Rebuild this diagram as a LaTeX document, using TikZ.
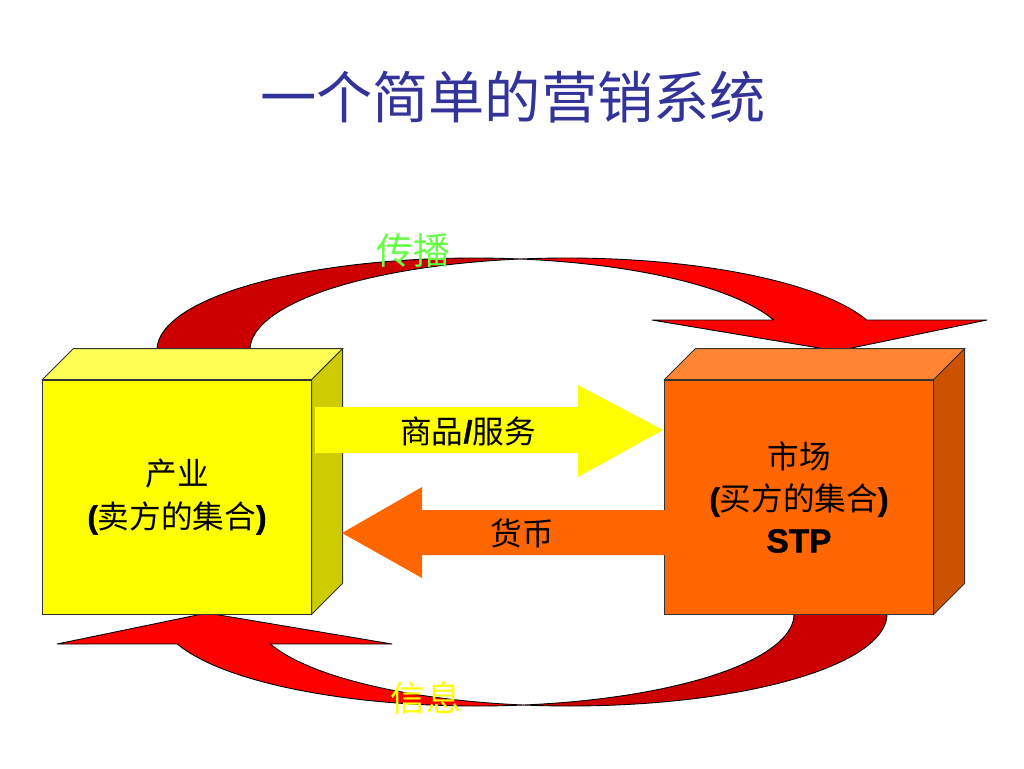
\documentclass[tikz,border=0pt]{standalone}
\usepackage{fontspec}
\setmainfont{Liberation Sans}
\newfontfamily\hei{Noto Sans CJK SC}
\newfontfamily\heavy[UprightFont={* Bold},FakeBold=1.2]{Liberation Sans}
\usepackage{tikz}
\usetikzlibrary{calc}

\definecolor{titleblue}{HTML}{333399}
\definecolor{arcdark}{HTML}{CC0000}
\definecolor{arclight}{HTML}{FF0000}
\definecolor{yelfront}{HTML}{FFFF00}
\definecolor{yeltop}{HTML}{FFFF55}
\definecolor{yelside}{HTML}{CCCC00}
\definecolor{orgfront}{HTML}{FF6600}
\definecolor{orgtop}{HTML}{FF8533}
\definecolor{orgside}{HTML}{CC5200}
\definecolor{spreadgreen}{HTML}{66FF44}

\begin{document}
\begin{tikzpicture}[x=0.02cm,y=-0.02cm,
    band/.style={draw=black,line width=0.5pt,line join=round},
    face/.style={draw=black!80,line width=0.5pt},
    cube/.style={face,minimum width=5.37cm,minimum height=4.68cm,align=center,
        font=\fontsize{18}{24}\selectfont},
    lbl/.style={font=\fontsize{18}{24}\selectfont}]
\useasboundingbox (0,0) rectangle (1024,768);

% title
\node[text=titleblue,font=\hei\fontsize{32}{38}\selectfont] (title) at (513,97) {一个简单的营销系统};

% curved arrows
\draw[band,fill=arcdark] plot[domain=180:81.6,samples=60] ({474+317*cos(\x)},{350-92*sin(\x)})
    -- plot[domain=98.4:180,samples=60] ({567+317*cos(\x)},{350-92*sin(\x)}) -- cycle;
\draw[band,fill=arclight] plot[domain=98.4:19,samples=60] ({567+317*cos(\x)},{350-92*sin(\x)})
    -- (987,320) -- (837,351) -- (652,320)
    -- plot[domain=19:81.6,samples=60] ({474+317*cos(\x)},{350-92*sin(\x)}) -- cycle;
\begin{scope}[rotate around={180:(522,482)}]
\draw[band,fill=arcdark] plot[domain=180:81.6,samples=60] ({474+317*cos(\x)},{350-92*sin(\x)})
    -- plot[domain=98.4:180,samples=60] ({567+317*cos(\x)},{350-92*sin(\x)}) -- cycle;
\draw[band,fill=arclight] plot[domain=98.4:19,samples=60] ({567+317*cos(\x)},{350-92*sin(\x)})
    -- (987,320) -- (837,351) -- (652,320)
    -- plot[domain=19:81.6,samples=60] ({474+317*cos(\x)},{350-92*sin(\x)}) -- cycle;
\end{scope}

% boxes
\node[cube,fill=yelfront] (ind) at (177,497) {{\hei 产业}\\{\heavy (}{\hei 卖方的集合}{\heavy )}};
\draw[face,fill=yeltop] (ind.north west) -- ++(31,-31) -- ($(ind.north east)+(31,-31)$) -- (ind.north east) -- cycle;
\draw[face,fill=yelside] (ind.north east) -- ++(31,-31) -- ($(ind.south east)+(31,-31)$) -- (ind.south east) -- cycle;

\node[cube,fill=orgfront] (mkt) at (799,497) {{\hei 市场}\\{\heavy (}{\hei 买方的集合}{\heavy )}\\{\fontsize{19}{24}\selectfont\heavy STP}};
\draw[face,fill=orgtop] (mkt.north west) -- ++(31,-31) -- ($(mkt.north east)+(31,-31)$) -- (mkt.north east) -- cycle;
\draw[face,fill=orgside] (mkt.north east) -- ++(31,-31) -- ($(mkt.south east)+(31,-31)$) -- (mkt.south east) -- cycle;

% flows between the boxes
\fill[yelfront] (315,407) -- (578,407) -- (578,385) -- (663,430) -- (578,477) -- (578,453) -- (315,453) -- cycle;
\fill[orgfront] (665,510) -- (422,510) -- (422,487) -- (342,533) -- (422,578) -- (422,555) -- (665,555) -- cycle;
\node[lbl] (goods) at (468,431) {{\hei 商品}{\heavy /}{\hei 服务}};
\node[lbl] (money) at (522,533) {\hei 货币};

% labels on the curved arrows
\node[text=spreadgreen,font=\hei\fontsize{21}{25}\selectfont] (spread) at (413,251) {传播};
\node[text=yelfront,font=\hei\fontsize{20}{24}\selectfont] (info) at (426,698) {信息};
\end{tikzpicture}
\end{document}
